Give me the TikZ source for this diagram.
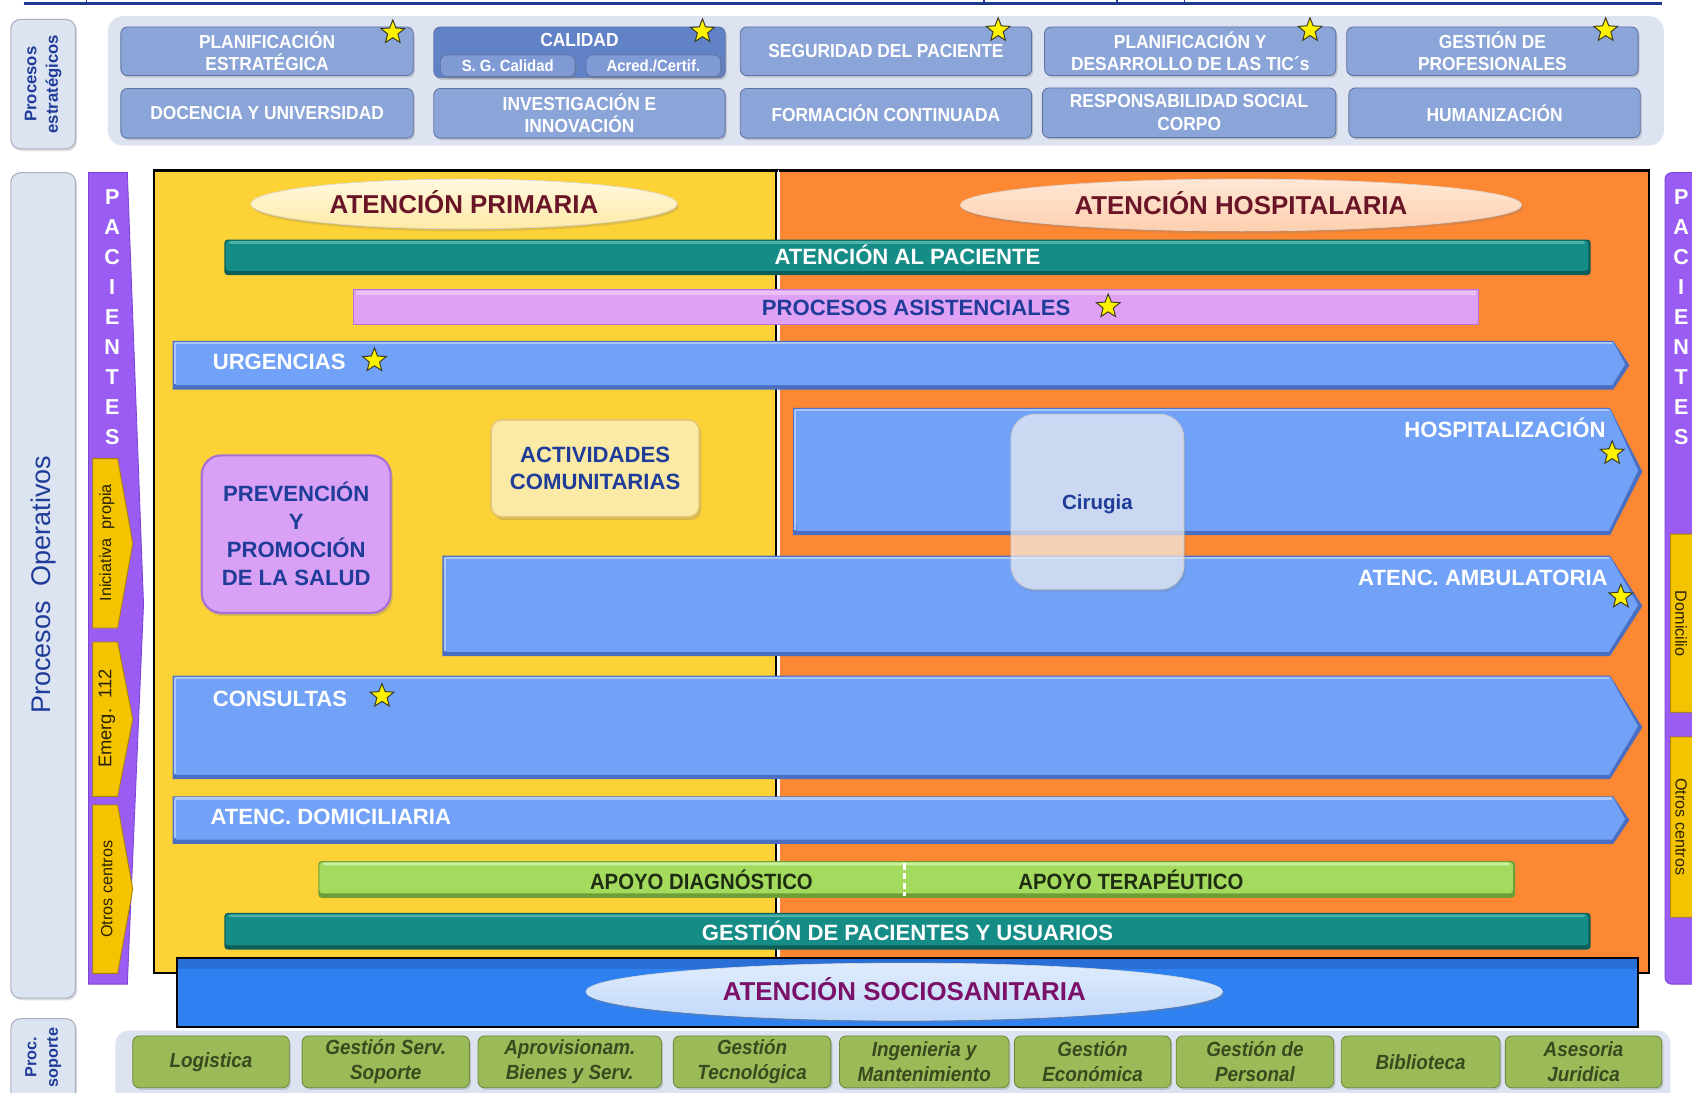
\documentclass[tikz,border=0pt]{standalone}
\usepackage{fontspec}
\setmainfont{Liberation Sans}
\newfontfamily\condsf[FakeStretch=0.92]{Liberation Sans}
\usetikzlibrary{shapes.geometric,shadows}

\definecolor{rulenavy}{HTML}{1F3A93}
\definecolor{panelbg}{HTML}{DDE3F0}
\definecolor{sidefill}{HTML}{DCE3F1}
\definecolor{sideedge}{HTML}{A9B0C0}
\definecolor{navytext}{HTML}{1F3C99}
\definecolor{stratblue}{HTML}{8CA5D8}
\definecolor{stratedge}{HTML}{5F73A3}
\definecolor{calblue}{HTML}{6282C8}
\definecolor{calsub}{HTML}{7F9AD5}
\definecolor{starfill}{HTML}{FFF200}
\definecolor{stardark}{HTML}{3A3A20}
\definecolor{stripviolet}{HTML}{9A5CF3}
\definecolor{stripedge}{HTML}{7B45D6}
\definecolor{chevfill}{HTML}{F4C400}
\definecolor{chevedge}{HTML}{A88400}
\definecolor{chevtext}{HTML}{2A2200}
\definecolor{primyellow}{HTML}{FDD236}
\definecolor{hosporange}{HTML}{FD8834}
\definecolor{titlered}{HTML}{6A1428}
\definecolor{tealmain}{HTML}{158C85}
\definecolor{tealdark}{HTML}{0C5E59}
\definecolor{teallight}{HTML}{4FB3AC}
\definecolor{violetbar}{HTML}{DFA1F3}
\definecolor{violetedge}{HTML}{B473DA}
\definecolor{bluemain}{HTML}{72A2F7}
\definecolor{bluedark}{HTML}{4A6EC2}
\definecolor{bluelight}{HTML}{A9C7FB}
\definecolor{greenmain}{HTML}{A4DB5F}
\definecolor{greendark}{HTML}{6E9E37}
\definecolor{greenlight}{HTML}{CBEFA0}
\definecolor{greentext}{HTML}{1E2C12}
\definecolor{sociofill}{HTML}{2F80F0}
\definecolor{sociotop}{HTML}{2A6FD6}
\definecolor{sociotext}{HTML}{7A1068}
\definecolor{prevfill}{HTML}{D9A1F5}
\definecolor{prevedge}{HTML}{A66FD6}
\definecolor{actfill}{HTML}{FBE9A6}
\definecolor{actedge}{HTML}{E3C66F}
\definecolor{supgreen}{HTML}{9BBB59}
\definecolor{supedge}{HTML}{6E8A3A}
\definecolor{suptext}{HTML}{3B4A1E}

% blue process arrow: x-left, y-top, x-body-end, y-bottom, x-tip
\newcommand{\procarrow}[5]{%
  \fill[bluedark] (#1,#2) -- (#3,#2) -- (#5,{(#2+#4)/2}) -- (#3,#4) -- (#1,#4) -- cycle;
  \fill[bluemain] ({#1+1},{#2+1}) -- (#3,{#2+1}) -- ({#5-4},{(#2+#4)/2-1}) -- ({#3-1},{#4-4}) -- ({#1+3},{#4-4}) -- cycle;
  \draw[bluelight,line width=2pt] ({#1+2},{#2+2}) -- ({#3-1},{#2+2});
  \draw[bluelight,line width=2pt] ({#1+2},{#2+2}) -- ({#1+2},{#4-5});
}
% bevelled band: x1, y1, x2, y2, dark, main, light
\newcommand{\bevelband}[7]{%
  \fill[#5, rounded corners=3pt] (#1,#2) rectangle (#3,#4);
  \fill[#6, rounded corners=3pt] ({#1+1},{#2+1}) rectangle ({#3-2},{#4-4});
  \fill[#7, rounded corners=2pt] ({#1+4},{#2+1.5}) rectangle ({#3-5},{#2+4});
}
% yellow pentagon inside the patient strips: x-left, y-top, x-body, y-bottom, x-tip
\newcommand{\chevpent}[5]{%
  \filldraw[fill=chevfill, draw=chevedge, line width=0.8pt]
    (#1,#2) -- (#3,#2) -- (#5,{(#2+#4)/2}) -- (#3,#4) -- (#1,#4) -- cycle;
}

\begin{document}
\begin{tikzpicture}[x=1pt,y=-1pt,
  strat/.style={rounded corners=6pt, fill=stratblue, draw=stratedge, line width=0.8pt,
    drop shadow={opacity=0.3,shadow xshift=1.5pt,shadow yshift=-2pt},
    text=white, font=\condsf\bfseries\fontsize{17.5}{21}\selectfont, align=center, inner sep=0pt},
  substrat/.style={strat, fill=calsub, font=\condsf\bfseries\fontsize{15}{18}\selectfont},
  starmark/.style={star, star points=5, star point ratio=2.3, minimum size=23pt, inner sep=0pt,
    fill=starfill, draw=stardark, line width=0.9pt},
  sidebox/.style={rounded corners=9pt, fill=sidefill, draw=sideedge, line width=1pt,
    drop shadow={opacity=0.25,shadow xshift=1.5pt,shadow yshift=-2pt}},
  sidetext/.style={text=navytext, align=center, inner sep=0pt},
  letter/.style={text=white, font=\bfseries\fontsize{20}{22}\selectfont, inner sep=0pt},
  chevlabel/.style={text=chevtext, inner sep=0pt, font=\fontsize{15}{17}\selectfont},
  bartext/.style={font=\bfseries\fontsize{20.5}{24}\selectfont, inner sep=0pt, text height=14.7pt, text depth=0pt},
  titleell/.style={ellipse, inner sep=0pt, text=titlered, font=\bfseries\fontsize{24}{28}\selectfont,
    text height=17pt, text depth=0pt, draw=white!70!gray, line width=0.6pt,
    drop shadow={opacity=0.25,shadow xshift=1.5pt,shadow yshift=-2.5pt}},
  boxtext/.style={text=navytext, font=\bfseries\fontsize{20.5}{26}\selectfont, align=center, inner sep=0pt},
  supbox/.style={rounded corners=6pt, fill=supgreen, draw=supedge, line width=0.8pt,
    drop shadow={opacity=0.3,shadow xshift=1.5pt,shadow yshift=-2pt},
    text=suptext, font=\condsf\bfseries\itshape\fontsize{19}{23}\selectfont, align=center,
    inner sep=0pt, minimum height=48pt}
]
\useasboundingbox (0,0) rectangle (1568,1012);
\clip (0,0) rectangle (1568,1012);
\fill[white] (0,0) rectangle (1568,1012);

% ---- rule along the top edge
\draw[rulenavy, line width=3pt] (22,3) -- (1540,3);
\foreach \tx in {80,912,1035,1098}
  \draw[rulenavy, line width=1.2pt] (\tx,-2) -- (\tx,3);

% ---- strategic processes
\draw[sidebox] (10,18) rectangle (70,138);
\node[sidetext, rotate=90, font=\bfseries\fontsize{15.5}{20}\selectfont] (esttxt) at (40,78) {Procesos\\estratégicos};
\fill[panelbg, rounded corners=14pt] (100,15) rectangle (1542,135);

\node[strat, minimum width=271pt, minimum height=45pt] (planest) at (247.5,47.5) {PLANIFICACIÓN\\ESTRATÉGICA};
\node[strat, fill=calblue, minimum width=270pt, minimum height=47pt] (calidad) at (537,48.5) {};
\node[text=white, font=\condsf\bfseries\fontsize{17.5}{21}\selectfont, inner sep=0pt] (caltxt) at (537,37) {CALIDAD};
\node[substrat, minimum width=125pt, minimum height=20pt] (sgcal) at (470.5,61) {S. G. Calidad};
\node[substrat, minimum width=125pt, minimum height=20pt] (acred) at (605.5,61) {Acred./Certif.};
\node[strat, minimum width=270pt, minimum height=45pt] (segpac) at (821,47.5) {SEGURIDAD DEL PACIENTE};
\node[strat, minimum width=270pt, minimum height=45pt] (tics) at (1103,47.5) {PLANIFICACIÓN Y\\DESARROLLO DE LAS TIC´s};
\node[strat, minimum width=270pt, minimum height=45pt] (gprof) at (1383,47.5) {GESTIÓN DE\\PROFESIONALES};

\node[strat, minimum width=271pt, minimum height=46pt] (docen) at (247.5,105) {DOCENCIA Y UNIVERSIDAD};
\node[strat, minimum width=270pt, minimum height=46pt] (invest) at (537,105) {INVESTIGACIÓN E\\INNOVACIÓN};
\node[strat, minimum width=270pt, minimum height=46pt] (formac) at (821,105) {FORMACIÓN CONTINUADA};
\node[strat, minimum width=272pt, minimum height=46pt] (rsc) at (1102,104.5) {RESPONSABILIDAD SOCIAL\\CORPO};
\node[strat, minimum width=270pt, minimum height=46pt] (human) at (1385,104.5) {HUMANIZACIÓN};

\node[starmark] (stA) at (364,30) {};
\node[starmark] (stB) at (651,29) {};
\node[starmark] (stC) at (925,28) {};
\node[starmark] (stD) at (1214,28) {};
\node[starmark] (stE) at (1488,28) {};

% ---- operative processes: side label and patient strips
\draw[sidebox] (10,160) rectangle (70,925);
\node[sidetext, rotate=90, font=\fontsize{25}{28}\selectfont] (optxt) at (40,542) {Procesos\ \ Operativos};

\filldraw[fill=stripviolet, draw=stripedge, line width=0.8pt]
  (82,160) -- (118,160) -- (133,560) -- (118,912) -- (82,912) -- cycle;
\filldraw[fill=stripviolet, draw=stripedge, line width=0.8pt, rounded corners=6pt]
  (1543,912) -- (1543,160) -- (1600,160) -- (1600,912) -- cycle;
\foreach \ch [count=\i] in {P,A,C,I,E,N,T,E,S} {
  \node[letter] (pl\i) at (104,{182.5+27.8*(\i-1)}) {\ch};
  \node[letter] (pr\i) at (1558,{182.5+27.8*(\i-1)}) {\ch};
}

\chevpent{86}{425}{109}{582}{123}
\node[chevlabel, rotate=90] (inic) at (99,503) {Iniciativa\ \ propia};
\chevpent{86}{595}{109}{738}{123}
\node[chevlabel, rotate=90, font=\fontsize{17}{19}\selectfont] (emerg) at (99,666) {Emerg.\ \ 112};
\chevpent{86}{746}{109}{902}{123}
\node[chevlabel, rotate=90] (otrosL) at (99,824) {Otros centros};

\chevpent{1548}{495}{1578}{660}{1592}
\node[chevlabel, rotate=-90] (domic) at (1558,578) {Domicilio};
\chevpent{1548}{683}{1578}{850}{1592}
\node[chevlabel, rotate=-90] (otrosR) at (1558,766) {Otros centros};

% ---- primary and hospital care areas
\fill[primyellow] (143,158) rectangle (719,902);
\fill[hosporange] (723,158) rectangle (1528,902);
\draw[black, line width=2pt] (143,158) rectangle (1528,902);
\draw[white, line width=1.5pt] (721.5,158) -- (721.5,902);
\draw[black, line width=2pt] (719,158) -- (719,902);

\node[titleell, top color=white!85!primyellow, bottom color=primyellow!45!white, minimum width=395pt, minimum height=46pt] (aprim) at (430,189) {ATENCIÓN PRIMARIA};
\node[titleell, top color=white!80!hosporange, bottom color=hosporange!40!white, minimum width=520pt, minimum height=48pt] (ahosp) at (1150,190) {ATENCIÓN HOSPITALARIA};

% ---- transversal bands and process arrows
\bevelband{208}{222}{1474}{255}{tealdark}{tealmain}{teallight}
\node[bartext, text=white] (apac) at (841,238) {ATENCIÓN AL PACIENTE};

\filldraw[fill=violetbar, draw=violetedge, line width=1pt] (328,268) rectangle (1370,301);
\fill[white, opacity=0.35] (330,270) rectangle (1368,273);
\node[bartext, text=navytext] (pasist) at (849,285) {PROCESOS ASISTENCIALES};
\node[starmark] (stF) at (1027,284) {};

\procarrow{160}{316}{1495}{361}{1510}
\node[bartext, text=white, anchor=west] (urg) at (197,335) {URGENCIAS};
\node[starmark] (stG) at (347,334) {};

\procarrow{735}{378}{1492}{496}{1522}
\node[bartext, text=white, anchor=east] (hosp) at (1488,398) {HOSPITALIZACIÓN};
\node[starmark] (stH) at (1494,420) {};

\procarrow{410}{515}{1492}{608}{1522}
\node[bartext, text=white, anchor=east] (ambul) at (1490,535) {ATENC. AMBULATORIA};
\node[starmark] (stI) at (1502,553) {};

\node[rounded corners=22pt, fill=white, fill opacity=0.62, text opacity=1, draw=white!60!gray,
  line width=1pt, minimum width=160pt, minimum height=162pt, inner sep=0pt,
  text=navytext, font=\bfseries\fontsize{19}{22}\selectfont, text height=13.6pt, text depth=0pt,
  drop shadow={opacity=0.2,shadow xshift=2pt,shadow yshift=-3pt}] (cirugia) at (1017,465) {Cirugia};

\procarrow{160}{626}{1492}{722}{1522}
\node[bartext, text=white, anchor=west] (consul) at (197,647) {CONSULTAS};
\node[starmark] (stJ) at (354,645) {};

\procarrow{160}{738}{1495}{782}{1510}
\node[bartext, text=white, anchor=west] (domicil) at (195,757) {ATENC. DOMICILIARIA};

\bevelband{295}{798}{1404}{832}{greendark}{greenmain}{greenlight}
\draw[white, line width=2.5pt, dash pattern=on 6pt off 3pt] (838,800) -- (838,830);
\node[bartext, text=greentext, font=\condsf\bfseries\fontsize{20.5}{24}\selectfont] (apdiag) at (650,817) {APOYO DIAGNÓSTICO};
\node[bartext, text=greentext, font=\condsf\bfseries\fontsize{20.5}{24}\selectfont] (apter) at (1048,817) {APOYO TERAPÉUTICO};

\bevelband{208}{846}{1474}{880}{tealdark}{tealmain}{teallight}
\node[bartext, text=white] (gpac) at (841,864) {GESTIÓN DE PACIENTES Y USUARIOS};

% ---- social and health care
\filldraw[fill=sociofill, draw=black, line width=2pt] (164,888) rectangle (1518,952);
\fill[sociotop] (165,889) rectangle (1517,898);
\node[titleell, text=sociotext, top color=white!85!sociofill, bottom color=sociofill!30!white, minimum width=590pt, minimum height=53pt] (socio) at (838,919) {ATENCIÓN SOCIOSANITARIA};

% ---- primary care boxes
\node[rounded corners=18pt, fill=prevfill, draw=prevedge, line width=2pt, minimum width=175pt, minimum height=146pt,
  boxtext, drop shadow={opacity=0.3,shadow xshift=2pt,shadow yshift=-3pt}] (prev) at (274.5,495) {PREVENCIÓN\\Y\\PROMOCIÓN\\DE LA SALUD};
\node[rounded corners=10pt, fill=actfill, draw=actedge, line width=1.5pt, minimum width=193pt, minimum height=90pt,
  boxtext, font=\bfseries\fontsize{20.5}{25}\selectfont, drop shadow={opacity=0.3,shadow xshift=2pt,shadow yshift=-3pt}] (activ) at (551.5,434) {ACTIVIDADES\\COMUNITARIAS};

% ---- support processes
\draw[sidebox] (10,944) rectangle (70,1030);
\node[sidetext, rotate=90, font=\bfseries\fontsize{15}{20}\selectfont] (soptxt) at (40,980) {Proc.\\soporte};
\fill[panelbg, rounded corners=12pt] (107,955) rectangle (1548,1030);

\node[supbox, minimum width=145pt] (logist) at (195.5,984) {Logistica};
\node[supbox, minimum width=155pt] (gserv) at (357.5,984) {Gestión Serv.\\Soporte};
\node[supbox, minimum width=170pt] (aprov) at (528,984) {Aprovisionam.\\Bienes y Serv.};
\node[supbox, minimum width=146pt] (gtec) at (697,984) {Gestión\\Tecnológica};
\node[supbox, minimum width=157pt] (ingen) at (856.5,984) {Ingenieria y\\Mantenimiento};
\node[supbox, minimum width=145pt] (geco) at (1012.5,984) {Gestión\\Económica};
\node[supbox, minimum width=146pt] (gpers) at (1163,984) {Gestión de\\Personal};
\node[supbox, minimum width=147pt] (biblio) at (1316.5,984) {Biblioteca};
\node[supbox, minimum width=145pt] (aseso) at (1467.5,984) {Asesoria\\Juridica};
\end{tikzpicture}
\end{document}
